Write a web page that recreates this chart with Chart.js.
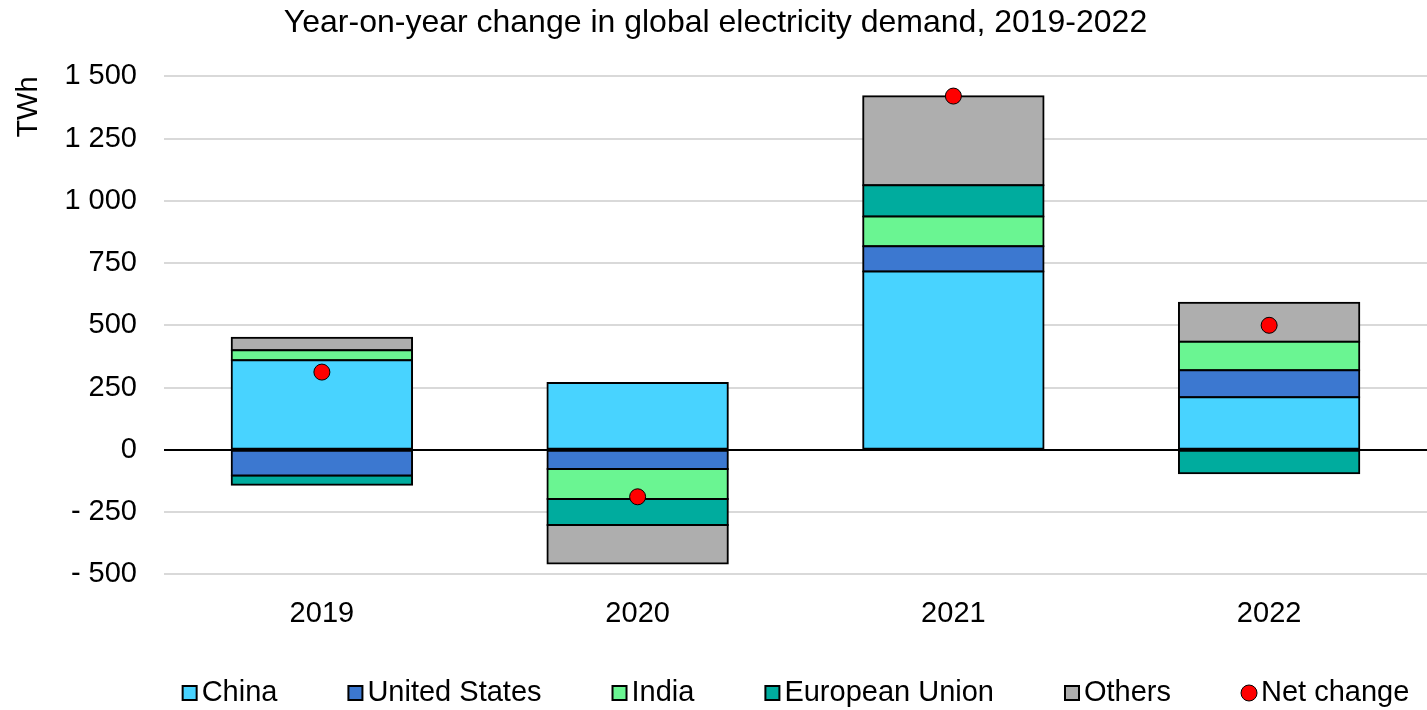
<!DOCTYPE html>
<html>
<head>
<meta charset="utf-8">
<script src="https://cdn.jsdelivr.net/npm/chart.js@4/dist/chart.umd.min.js"></script>
<style>
  html, body { margin: 0; padding: 0; background: #fff; overflow: hidden; }
  #wrap { width: 1427px; height: 710px; }
</style>
</head>
<body>
<div id="wrap"><canvas id="demandChart"></canvas></div>
<script>
const years = ['2019', '2020', '2021', '2022'];

const china = [360, 268, 716, 211];
const unitedStates = [-103, -77, 102, 108];
const india = [40, -121, 119, 115];
const europeanUnion = [-38, -104, 126, -94];
const others = [50, -155, 357, 157];
const netChange = [312, -189, 1421, 500];

const yTicks = [-500, -250, 0, 250, 500, 750, 1000, 1250, 1500];

const fontFamily = '"Liberation Sans", Arial, sans-serif';

// "1 500", "- 250" style numbers
function fmt(v) {
    const abs = Math.abs(v);
    const s = abs >= 1000 ? Math.floor(abs / 1000) + ' ' + String(abs % 1000).padStart(3, '0') : String(abs);
    return v < 0 ? '- ' + s : s;
}

// one-row legend centred under the plot area, small marker right next to each label
const legendRow = {
    id: 'legendRow',
    afterDraw(chart) {
        const {ctx, chartArea} = chart;
        const markerW = 16, textGap = 4, gap = 70;
        const y = chart.height - 17;
        ctx.save();
        ctx.font = '29px ' + fontFamily;
        ctx.textBaseline = 'middle';
        const items = chart.data.datasets.map(ds => ({ds, w: ctx.measureText(ds.label).width}));
        const total = items.reduce((s, it) => s + markerW + textGap + it.w, 0) + gap * (items.length - 1);
        let x = (chartArea.left + chartArea.right) / 2 - total / 2;
        items.forEach(({ds, w}) => {
            ctx.strokeStyle = '#000';
            if (ds.type === 'line') {
                ctx.fillStyle = ds.pointBackgroundColor;
                ctx.lineWidth = 1;
                ctx.beginPath();
                ctx.arc(x + markerW / 2, y, 8, 0, Math.PI * 2);
                ctx.fill();
                ctx.stroke();
            } else {
                ctx.fillStyle = ds.backgroundColor;
                ctx.lineWidth = 2;
                ctx.fillRect(x + 1, y - 7, 14, 14);
                ctx.strokeRect(x + 1, y - 7, 14, 14);
            }
            ctx.fillStyle = '#000';
            ctx.fillText(ds.label, x + markerW + textGap, y);
            x += markerW + textGap + w + gap;
        });
        ctx.restore();
    }
};

function barSet(label, data, color) {
    return {
        type: 'bar',
        label: label,
        data: data,
        backgroundColor: color,
        borderColor: '#000',
        borderWidth: 2,
        borderSkipped: false,
        inflateAmount: 1,
        stack: 'parts',
        order: 1,
        categoryPercentage: 0.8,
        barPercentage: 0.714
    };
}

const ctx = document.getElementById('demandChart');

new Chart(ctx, {
    data: {
        labels: years,
        datasets: [
            barSet('China', china, '#48D3FF'),
            barSet('United States', unitedStates, '#3C78D0'),
            barSet('India', india, '#6AF592'),
            barSet('European Union', europeanUnion, '#00AC9E'),
            barSet('Others', others, '#AEAEAE'),
            {
                type: 'line',
                label: 'Net change',
                data: netChange,
                showLine: false,
                stack: 'net',
                order: 0,
                pointStyle: 'circle',
                pointRadius: 8,
                pointHoverRadius: 8,
                pointBackgroundColor: '#FF0000',
                pointBorderColor: '#000',
                pointBorderWidth: 1,
                backgroundColor: '#FF0000',
                borderColor: '#000'
            }
        ]
    },
    plugins: [legendRow],
    options: {
        responsive: true,
        maintainAspectRatio: false,
        animation: false,
        layout: {
            autoPadding: false,
            padding: { left: 0, right: -4, top: 0, bottom: 57 }
        },
        scales: {
            x: {
                stacked: true,
                grid: { display: false, drawTicks: false },
                border: { display: false },
                ticks: {
                    color: '#000',
                    padding: 22,
                    font: { family: fontFamily, size: 29 }
                }
            },
            y: {
                stacked: true,
                min: -500,
                max: 1500,
                afterFit: function (scale) {
                    scale.width = 164;
                },
                afterBuildTicks: function (scale) {
                    scale.ticks = yTicks.map(v => ({ value: v }));
                },
                border: { display: false },
                grid: {
                    drawTicks: false,
                    color: c => c.tick && c.tick.value === 0 ? '#000' : '#D9D9D9',
                    lineWidth: 2
                },
                title: {
                    display: true,
                    text: 'TWh',
                    align: 'end',
                    color: '#000',
                    padding: { top: 12, bottom: 0 },
                    font: { family: fontFamily, size: 29 }
                },
                ticks: {
                    color: '#000',
                    padding: 27,
                    font: { family: fontFamily, size: 29 },
                    callback: v => fmt(v)
                }
            }
        },
        plugins: {
            title: {
                display: true,
                text: 'Year-on-year change in global electricity demand, 2019-2022',
                color: '#000',
                padding: { top: 4, bottom: 34 },
                font: { family: fontFamily, size: 32, weight: 'normal' }
            },
            legend: { display: false },
            tooltip: { enabled: false }
        }
    }
});
</script>
</body>
</html>
